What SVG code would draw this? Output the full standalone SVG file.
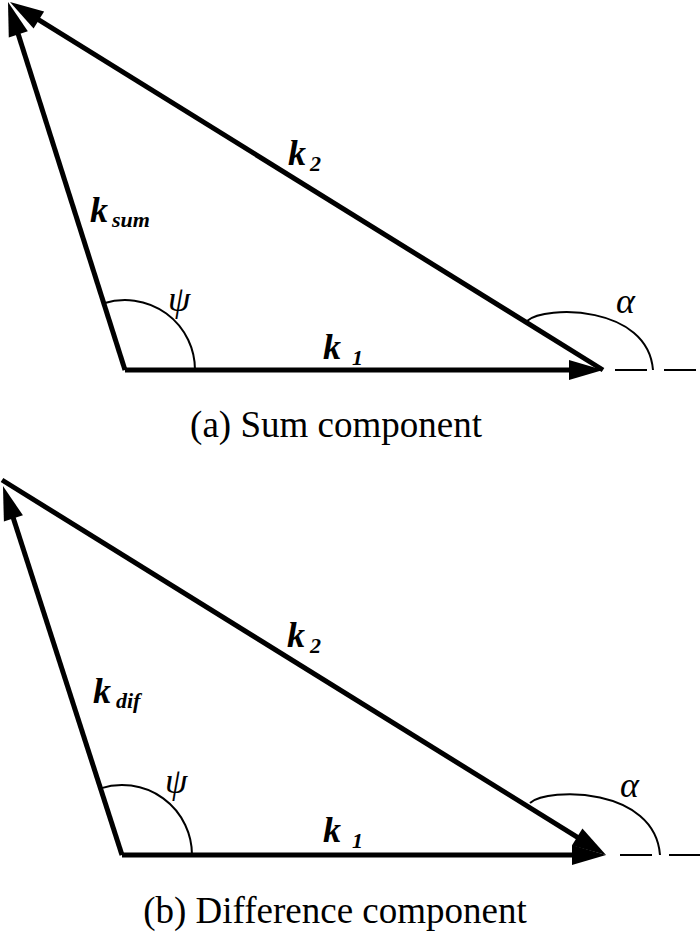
<svg xmlns="http://www.w3.org/2000/svg" width="700" height="933" viewBox="0 0 700 933">
<style>
.vec{stroke:#000;stroke-width:5;fill:none;marker-end:url(#ah)}
.arc{stroke:#000;stroke-width:2;fill:none}
.dash{stroke:#000;stroke-width:2;fill:none;stroke-dasharray:32 17}
text{font-family:'Liberation Serif','DejaVu Serif',serif;fill:#000}
.k{font-weight:bold;font-style:italic;font-size:36px}
.sub{font-weight:bold;font-style:italic;font-size:22px}
.gr{font-style:italic;font-size:36px}
.cap{font-size:37px;text-anchor:middle}
</style>
<defs>
<marker id="ah" markerUnits="userSpaceOnUse" markerWidth="40" markerHeight="24" refX="1" refY="10" orient="auto" overflow="visible">
<path d="M0,0 L34,10 L0,20 z" fill="#000"/>
</marker>
</defs>
<g id="connectors">
<line class="vec" x1="125" y1="370" x2="570" y2="370"/>
<line class="vec" x1="125" y1="370" x2="18" y2="33.4"/>
<line class="vec" x1="603" y1="370" x2="38" y2="19.4"/>
<line class="vec" x1="122" y1="855" x2="573" y2="855"/>
<line class="vec" x1="122" y1="855" x2="13.1" y2="517.4"/>
<line class="vec" x1="2" y1="480" x2="578" y2="837.6"/>
</g>
<g id="panel-a">
<line class="dash" x1="615" y1="370" x2="700" y2="370"/>
<path class="arc" d="M103.8,303.3 A70,70 0 0,1 195,370"/>
<path class="arc" d="M527,321 C545,305 648,305 653,370"/>
<text class="k" x="323" y="359">k</text><text class="sub" x="352" y="365">1</text>
<text class="k" x="288" y="165">k</text><text class="sub" x="310" y="171">2</text>
<text class="k" x="90" y="222">k</text><text class="sub" x="112" y="227">sum</text>
<text class="gr" x="168" y="311">ψ</text>
<text class="gr" x="616" y="313">α</text>
<text class="cap" x="336" y="437">(a) Sum component</text>
</g>
<g id="panel-b">
<line class="dash" x1="620" y1="855" x2="700" y2="855"/>
<path class="arc" d="M100.5,788.4 A70,70 0 0,1 192,855"/>
<path class="arc" d="M530,803 C548,787 655,787 660,855"/>
<text class="k" x="323" y="842">k</text><text class="sub" x="352" y="848">1</text>
<text class="k" x="287" y="647">k</text><text class="sub" x="310" y="653">2</text>
<text class="k" x="93" y="703">k</text><text class="sub" x="116" y="708">dif</text>
<text class="gr" x="165" y="793">ψ</text>
<text class="gr" x="620" y="797">α</text>
<text class="cap" x="335" y="923">(b) Difference component</text>
</g>
</svg>
